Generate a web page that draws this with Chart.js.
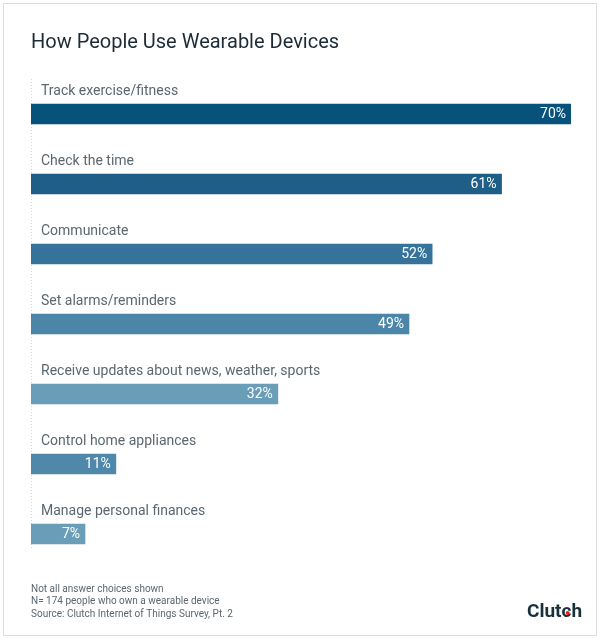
<!DOCTYPE html>
<html>
<head>
<meta charset="utf-8">
<script src="https://cdn.jsdelivr.net/npm/chart.js@4.4.0/dist/chart.umd.min.js"></script>
<style>
  html, body { margin: 0; padding: 0; background: #ffffff; }
  #wrap { width: 600px; height: 639px; position: relative; }
</style>
</head>
<body>
<div id="wrap"><canvas id="c" width="600" height="639"></canvas></div>
<script>
const categories = [
  "Track exercise/fitness",
  "Check the time",
  "Communicate",
  "Set alarms/reminders",
  "Receive updates about news, weather, sports",
  "Control home appliances",
  "Manage personal finances"
];
const values = [70, 61, 52, 49, 32, 11, 7];
const barColors = ["#07527a", "#1f5f87", "#35739a", "#4b86a9", "#6a9db8", "#4f88a8", "#6a9db8"];
const titleText = "How People Use Wearable Devices";
const footnotes = [
  "Not all answer choices shown",
  "N= 174 people who own a wearable device",
  "Source: Clutch Internet of Things Survey, Pt. 2"
];
const brand = "Clutch";

const FONT = "Roboto, 'Noto Sans', sans-serif";

const decorPlugin = {
  id: "decor",
  beforeDraw(chart) {
    const ctx = chart.ctx;
    ctx.save();
    ctx.fillStyle = "#ffffff";
    ctx.fillRect(0, 0, chart.width, chart.height);
    ctx.strokeStyle = "#dcdcdc";
    ctx.lineWidth = 1;
    ctx.strokeRect(3.5, 3.5, chart.width - 7, chart.height - 7);
    const area = chart.chartArea;
    ctx.strokeStyle = "#d8d8d8";
    ctx.setLineDash([1, 2]);
    ctx.beginPath();
    ctx.moveTo(area.left + 0.5, area.top);
    ctx.lineTo(area.left + 0.5, area.bottom - 20);
    ctx.stroke();
    ctx.restore();
  },
  afterDatasetsDraw(chart) {
    const ctx = chart.ctx;
    const meta = chart.getDatasetMeta(0);
    ctx.save();
    meta.data.forEach((bar, i) => {
      ctx.font = "14px " + FONT;
      ctx.fillStyle = "#5b6770";
      ctx.textAlign = "left";
      ctx.textBaseline = "middle";
      ctx.fillText(categories[i], bar.base + 10, bar.y - 23);
      ctx.font = "14px " + FONT;
      ctx.fillStyle = "#ffffff";
      ctx.textAlign = "right";
      ctx.fillText(values[i] + "%", bar.x - 5, bar.y + 0.5);
    });
    ctx.font = "10px " + FONT;
    ctx.fillStyle = "#5b6770";
    ctx.textAlign = "left";
    ctx.textBaseline = "middle";
    footnotes.forEach((t, i) => ctx.fillText(t, 31, 589 + i * 12.5));
    ctx.font = "bold 19px " + FONT;
    ctx.fillStyle = "#17313b";
    ctx.textAlign = "left";
    ctx.textBaseline = "middle";
    const bx = 527;
    ctx.fillText(brand, bx, 612);
    const pre = ctx.measureText("Clut").width;
    const cw = ctx.measureText("c").width;
    ctx.fillStyle = "#e62415";
    ctx.beginPath();
    ctx.arc(bx + pre + cw * 0.62, 613, 2, 0, Math.PI * 2);
    ctx.fill();
    ctx.restore();
  }
};

new Chart(document.getElementById("c"), {
  type: "bar",
  data: {
    labels: categories,
    datasets: [{
      data: values,
      backgroundColor: barColors,
      borderWidth: 0,
      barThickness: 20
    }]
  },
  options: {
    indexAxis: "y",
    responsive: false,
    animation: false,
    layout: { padding: { left: 31, right: 29, top: 18, bottom: 70 } },
    scales: {
      x: { display: false, min: 0, max: 70 },
      y: { display: false, offset: true }
    },
    plugins: {
      legend: { display: false },
      tooltip: { enabled: false },
      title: {
        display: true,
        text: titleText,
        align: "start",
        color: "#1d2b36",
        font: { family: FONT, size: 20, weight: "normal", lineHeight: 1.2 },
        padding: { top: 13, bottom: 24 }
      }
    }
  },
  plugins: [decorPlugin]
});
</script>
</body>
</html>
